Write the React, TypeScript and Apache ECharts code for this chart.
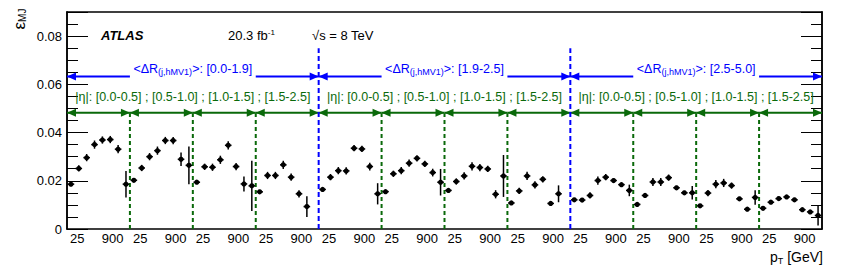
import React, { useEffect, useRef } from "react";
import * as echarts from "echarts";

// ---- data ----
const drRegions = ["[0.0-1.9]", "[1.9-2.5]", "[2.5-5.0]"];
const etaRegions = ["[0.0-0.5]", "[0.5-1.0]", "[1.0-1.5]", "[1.5-2.5]"];
const ptTickLabels = ["25", "900"];
const ptTickOffsets = [1.3, 5.8]; // position of the labels inside each |eta| block (in bins)
const binsPerEta = 8;

// epsilon_MJ for each <dR> region, 4 |eta| blocks x 8 pT bins (null = empty bin)
const dr1Values = [
  0.0186, 0.0251, 0.0296, 0.035, 0.0369, 0.0371, 0.0331, 0.0186,
  0.0202, 0.0253, 0.03, 0.0325, 0.0367, 0.0367, 0.0289, 0.0264,
  0.0194, 0.0258, 0.0256, 0.0287, 0.0347, 0.0259, 0.0187, 0.0179,
  0.0154, 0.0222, 0.0222, 0.0266, 0.0215, 0.0146, 0.0093, null,
];
const dr1Errors = [
  0.0006, 0.0013, 0.0015, 0.0017, 0.0015, 0.0015, 0.0017, 0.0055,
  0.0006, 0.0013, 0.0015, 0.0017, 0.0015, 0.0015, 0.0028, 0.0078,
  0.0006, 0.0013, 0.0015, 0.0017, 0.0017, 0.0015, 0.0031, 0.0104,
  0.0006, 0.0015, 0.0015, 0.0017, 0.0015, 0.0015, 0.0043, null,
];
const dr2Values = [
  0.0164, 0.0215, 0.0242, 0.0241, 0.0335, 0.0332, 0.0259, 0.0146,
  0.0155, 0.0229, 0.0242, 0.0273, 0.0293, 0.027, 0.0234, 0.0194,
  0.016, 0.0197, 0.022, 0.026, 0.0255, 0.0249, 0.0144, 0.022,
  0.0108, 0.0158, 0.022, 0.0183, 0.0206, 0.0106, 0.0146, null,
];
const dr2Errors = [
  0.0006, 0.0013, 0.0015, 0.0015, 0.0013, 0.0013, 0.0016, 0.0044,
  0.0006, 0.0013, 0.0015, 0.0015, 0.0013, 0.0013, 0.0016, 0.0055,
  0.0006, 0.0013, 0.0015, 0.0017, 0.0015, 0.0013, 0.0017, 0.0087,
  0.0006, 0.0013, 0.0017, 0.0015, 0.0013, 0.001, 0.0035, null,
];
const dr3Values = [
  0.0121, 0.012, 0.0139, 0.0201, 0.0215, 0.0201, 0.0184, 0.016,
  0.0102, 0.0139, 0.0195, 0.0195, 0.0213, 0.0171, 0.015, 0.015,
  0.0096, 0.0149, 0.0186, 0.0191, 0.018, 0.0125, 0.0082, 0.0131,
  0.0086, 0.0111, 0.0126, 0.0133, 0.0121, 0.008, 0.0071, 0.0056,
];
const dr3Errors = [
  0.0006, 0.0006, 0.0013, 0.0017, 0.0013, 0.0008, 0.0008, 0.0024,
  0.0005, 0.001, 0.0017, 0.0017, 0.0013, 0.0008, 0.0008, 0.0028,
  0.0006, 0.0013, 0.0017, 0.0017, 0.0013, 0.0008, 0.0008, 0.003,
  0.0005, 0.0005, 0.0006, 0.0008, 0.0008, 0.0005, 0.0005, 0.0041,
];

const FONT = "'Liberation Sans', Arial, Helvetica, sans-serif";
const BLUE = "#0000ff";
const GREEN = "#0a690a";

export default function App() {
  const ref = useRef<HTMLDivElement>(null);

  useEffect(() => {
    document.body.style.margin = "0";
    const chart = echarts.init(ref.current!, null, { renderer: "svg" });

    const values = [...dr1Values, ...dr2Values, ...dr3Values];
    const errors = [...dr1Errors, ...dr2Errors, ...dr3Errors];
    const nBins = values.length;
    const binsPerDr = binsPerEta * etaRegions.length;

    const pointData: number[][] = [];
    values.forEach((v, i) => {
      if (v != null) pointData.push([i + 0.5, v, errors[i] as number]);
    });

    const blueArrowY = 0.0633;
    const greenArrowY = 0.0482;
    const blueTextY = 0.0663;
    const greenTextY = 0.0549;
    const blueLineTop = 0.075;
    const greenLineTop = 0.048;

    const blueSegs: number[][] = [];
    const blueDash: number[][] = [];
    drRegions.forEach((_, r) => {
      const x0 = r * binsPerDr;
      blueSegs.push([x0, x0 + binsPerEta, blueArrowY, 1, 0]);
      blueSegs.push([x0 + binsPerDr - binsPerEta, x0 + binsPerDr, blueArrowY, 0, 1]);
      if (r > 0) blueDash.push([x0, blueLineTop]);
    });
    const greenSegs: number[][] = [];
    const greenDash: number[][] = [];
    for (let g = 0; g < nBins / binsPerEta; g++) {
      const x0 = g * binsPerEta;
      greenSegs.push([x0, x0 + binsPerEta, greenArrowY, 1, 1]);
      if (g > 0 && x0 % binsPerDr !== 0) greenDash.push([x0, greenLineTop]);
    }

    const labelTexts: string[] = [];
    const labelData: number[][] = [];
    drRegions.forEach((dr, r) => {
      const xc = r * binsPerDr + binsPerDr / 2;
      labelTexts.push("<ΔR{s|(j,hMV1)}>: " + dr);
      labelData.push([xc, blueTextY, 0]);
      labelTexts.push("|η|: " + etaRegions.join(" ; "));
      labelData.push([xc, greenTextY, 1]);
    });

    const customTicks: number[] = [];
    for (let g = 0; g < nBins / binsPerEta; g++) {
      ptTickOffsets.forEach((o) => customTicks.push(g * binsPerEta + o));
    }

    const arrowRender = (color: string) => (params: any, api: any) => {
      const a = api.coord([api.value(0), api.value(2)]);
      const b = api.coord([api.value(1), api.value(2)]);
      const L = 9;
      const H = 4;
      const children: any[] = [
        {
          type: "line",
          shape: { x1: a[0], y1: a[1], x2: b[0], y2: b[1] },
          style: { stroke: color, lineWidth: 2 },
        },
      ];
      if (api.value(3))
        children.push({
          type: "polygon",
          shape: { points: [[a[0], a[1]], [a[0] + L, a[1] - H], [a[0] + L, a[1] + H]] },
          style: { fill: color },
        });
      if (api.value(4))
        children.push({
          type: "polygon",
          shape: { points: [[b[0], b[1]], [b[0] - L, b[1] - H], [b[0] - L, b[1] + H]] },
          style: { fill: color },
        });
      return { type: "group", children };
    };

    const dashRender = (color: string, dash: number[]) => (params: any, api: any) => {
      const p0 = api.coord([api.value(0), 0]);
      const p1 = api.coord([api.value(0), api.value(1)]);
      return {
        type: "line",
        shape: { x1: p0[0], y1: p0[1], x2: p1[0], y2: p1[1] },
        style: { stroke: color, lineWidth: 2, lineDash: dash },
      };
    };

    const baseY: any = {
      type: "value",
      min: 0,
      max: 0.09,
      splitLine: { show: false },
      axisLine: { show: true, lineStyle: { color: "#000", width: 1.5 } },
    };

    const option: any = {
      animation: false,
      grid: { left: 67, right: 25, top: 12, bottom: 39 },
      xAxis: [
        {
          type: "value",
          min: 0,
          max: nBins,
          position: "bottom",
          splitLine: { show: false },
          axisLine: { show: true, onZero: false, lineStyle: { color: "#000", width: 1.5 } },
          axisTick: { show: false },
          axisLabel: {
            customValues: customTicks,
            color: "#000",
            fontSize: 13,
            fontFamily: FONT,
            margin: 3,
            formatter: (v: number) => {
              const f = v - Math.floor(v / binsPerEta) * binsPerEta;
              return f < (ptTickOffsets[0] + ptTickOffsets[1]) / 2 ? ptTickLabels[0] : ptTickLabels[1];
            },
          },
        },
        {
          type: "value",
          min: 0,
          max: nBins,
          position: "top",
          splitLine: { show: false },
          axisLine: { show: true, onZero: false, lineStyle: { color: "#000", width: 1.5 } },
          axisTick: { show: false },
          axisLabel: { show: false },
        },
      ],
      yAxis: [
        {
          ...baseY,
          position: "left",
          interval: 0.02,
          axisTick: { show: true, inside: true, length: 21, lineStyle: { color: "#000", width: 1 } },
          axisLabel: {
            color: "#000",
            fontSize: 13,
            fontFamily: FONT,
            margin: 5,
            formatter: (v: number) => (v > 0.085 ? "" : v === 0 ? "0" : v.toFixed(2)),
          },
        },
        {
          ...baseY,
          position: "left",
          interval: 0.005,
          axisTick: { show: true, inside: true, length: 11, lineStyle: { color: "#000", width: 1 } },
          axisLabel: { show: false },
        },
        {
          ...baseY,
          position: "right",
          interval: 0.02,
          axisTick: { show: true, inside: true, length: 21, lineStyle: { color: "#000", width: 1 } },
          axisLabel: { show: false },
        },
        {
          ...baseY,
          position: "right",
          interval: 0.005,
          axisTick: { show: true, inside: true, length: 11, lineStyle: { color: "#000", width: 1 } },
          axisLabel: { show: false },
        },
      ],
      graphic: [
        {
          type: "text",
          x: 19,
          y: 19,
          rotation: Math.PI / 2,
          style: {
            text: "{e|ε}{m|MJ}",
            align: "center",
            verticalAlign: "middle",
            fill: "#000",
            rich: {
              e: { fontSize: 17, fontFamily: FONT, fill: "#000" },
              m: { fontSize: 10, fontFamily: FONT, fill: "#000", verticalAlign: "bottom", padding: [7, 0, 0, 0] },
            },
          },
        },
        {
          type: "text",
          x: 823,
          y: 257,
          style: {
            text: "{p|p}{t|T}{p| [GeV]}",
            align: "right",
            verticalAlign: "middle",
            fill: "#000",
            rich: {
              p: { fontSize: 14, fontFamily: FONT, fill: "#000" },
              t: { fontSize: 9, fontFamily: FONT, fill: "#000", verticalAlign: "bottom", padding: [7, 0, 0, 0] },
            },
          },
        },
        {
          type: "text",
          x: 101,
          y: 35,
          style: {
            text: "ATLAS",
            font: `italic bold 13px ${FONT}`,
            fill: "#000",
            align: "left",
            verticalAlign: "middle",
          },
        },
        {
          type: "text",
          x: 228,
          y: 35,
          style: {
            text: "{n|20.3 fb}{s|-1}",
            align: "left",
            verticalAlign: "middle",
            fill: "#000",
            rich: {
              n: { fontSize: 13, fontFamily: FONT, fill: "#000" },
              s: { fontSize: 8, fontFamily: FONT, fill: "#000", verticalAlign: "top", padding: [0, 0, 6, 0] },
            },
          },
        },
        {
          type: "text",
          x: 312,
          y: 35,
          style: {
            text: "√s = 8 TeV",
            font: `13px ${FONT}`,
            fill: "#000",
            align: "left",
            verticalAlign: "middle",
          },
        },
      ],
      series: [
        {
          type: "custom",
          name: "green dashed",
          z: 2,
          data: greenDash,
          encode: { x: 0, y: 1 },
          renderItem: dashRender(GREEN, [4, 3]),
        },
        {
          type: "custom",
          name: "green arrows",
          z: 3,
          data: greenSegs,
          encode: { x: [0, 1], y: 2 },
          renderItem: arrowRender(GREEN),
        },
        {
          type: "custom",
          name: "blue arrows",
          z: 3,
          data: blueSegs,
          encode: { x: [0, 1], y: 2 },
          renderItem: arrowRender(BLUE),
        },
        {
          type: "custom",
          name: "blue dashed",
          z: 4,
          data: blueDash,
          encode: { x: 0, y: 1 },
          renderItem: dashRender(BLUE, [5, 3]),
        },
        {
          type: "custom",
          name: "labels",
          z: 5,
          data: labelData,
          encode: { x: 0, y: 1 },
          renderItem: (params: any, api: any) => {
            const c = api.coord([api.value(0), api.value(1)]);
            const isBlue = api.value(2) === 0;
            const color = isBlue ? BLUE : GREEN;
            return {
              type: "text",
              x: c[0],
              y: c[1],
              style: {
                text: labelTexts[params.dataIndex],
                align: "center",
                verticalAlign: "middle",
                fill: color,
                fontSize: 12.5,
                fontFamily: FONT,
                rich: {
                  s: {
                    fontSize: 9,
                    fontFamily: FONT,
                    fill: color,
                    verticalAlign: "bottom",
                    padding: [6, 0, 0, 0],
                  },
                },
              },
            };
          },
        },
        {
          type: "custom",
          name: "epsilon_MJ",
          z: 6,
          data: pointData,
          encode: { x: 0, y: 1 },
          renderItem: (params: any, api: any) => {
            const x = api.value(0);
            const y = api.value(1);
            const e = api.value(2);
            const c = api.coord([x, y]);
            const lo = api.coord([x, y - e]);
            const hi = api.coord([x, y + e]);
            const l = api.coord([x - 0.42, y]);
            const r = api.coord([x + 0.42, y]);
            return {
              type: "group",
              children: [
                {
                  type: "line",
                  shape: { x1: l[0], y1: c[1], x2: r[0], y2: c[1] },
                  style: { stroke: "#000", lineWidth: 1.5 },
                },
                {
                  type: "line",
                  shape: { x1: c[0], y1: hi[1], x2: c[0], y2: lo[1] },
                  style: { stroke: "#000", lineWidth: 1.5 },
                },
                {
                  type: "circle",
                  shape: { cx: c[0], cy: c[1], r: 2.6 },
                  style: { fill: "#000" },
                },
              ],
            };
          },
        },
      ],
    };

    chart.setOption(option);
    return () => chart.dispose();
  }, []);

  return <div ref={ref} style={{ width: 847, height: 268 }} />;
}
